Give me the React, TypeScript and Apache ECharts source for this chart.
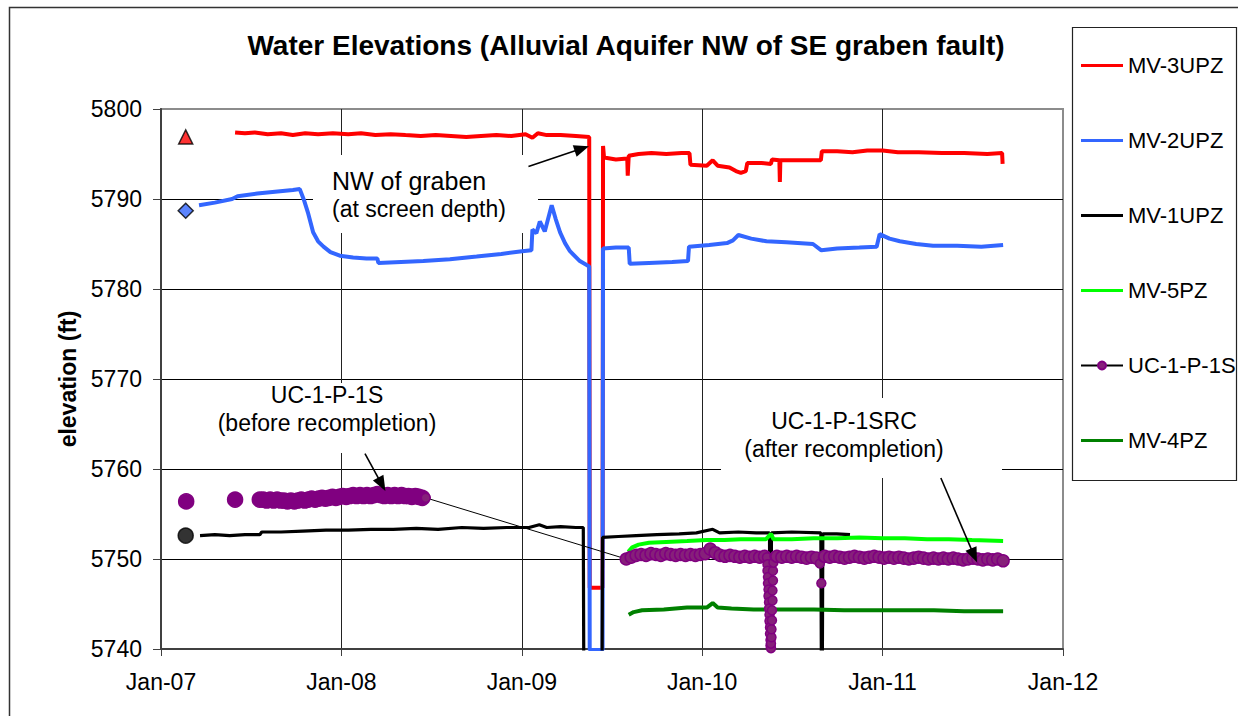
import React, { useEffect, useRef } from "react";
import * as echarts from "echarts";

const FONT = "'Liberation Sans', Arial, Helvetica, sans-serif";

// ---------- DATA ----------
const xOrigin = "2007-01-01"; // x values are days since this date
const xAxisMinDays = 0;
const xAxisMaxDays = 1826.25; // Jan-12
const xAxisIntervalDays = 365.25; // one year
const xFirstYear = 2007;
const yAxisMin = 5740;
const yAxisMax = 5800;
const yAxisInterval = 10;

const seriesNames = ["MV-3UPZ", "MV-2UPZ", "MV-1UPZ", "MV-5PZ", "UC-1-P-1S", "MV-4PZ"];

// manual readings (Feb 2007)
const manualDate = "2007-02-20";
const manualNames = ["MV-3UPZ", "MV-2UPZ", "MV-1UPZ"];
const manualValues = [5796.9, 5788.7, 5752.6];

const mv3upz: [string, number][] = [
  ["2007-05-31", 5797.4], ["2007-06-20", 5797.3], ["2007-07-10", 5797.4], ["2007-08-05", 5797.2],
  ["2007-09-01", 5797.3], ["2007-09-25", 5797.1], ["2007-10-20", 5797.3], ["2007-11-15", 5797.2],
  ["2007-12-15", 5797.3], ["2008-01-15", 5797.2], ["2008-02-10", 5797.3], ["2008-03-10", 5797.1],
  ["2008-04-10", 5797.2], ["2008-05-10", 5797.1], ["2008-06-10", 5797.0], ["2008-07-10", 5797.1],
  ["2008-08-10", 5797.0], ["2008-09-10", 5796.9], ["2008-10-10", 5797.0], ["2008-11-10", 5797.1],
  ["2008-12-10", 5797.0], ["2009-01-08", 5797.2], ["2009-01-22", 5796.8], ["2009-02-02", 5797.3],
  ["2009-02-20", 5797.1], ["2009-03-20", 5797.1], ["2009-04-20", 5797.0], ["2009-05-17", 5796.9],
  ["2009-05-18", 5746.8], ["2009-06-13", 5746.8], ["2009-06-14", 5795.9], ["2009-06-16", 5794.6],
  ["2009-07-10", 5794.4], ["2009-08-02", 5794.5], ["2009-08-03", 5792.6], ["2009-08-05", 5794.8],
  ["2009-08-25", 5795.0], ["2009-09-20", 5795.1], ["2009-10-20", 5795.0], ["2009-11-20", 5795.1],
  ["2009-12-06", 5795.1], ["2009-12-08", 5793.8], ["2010-01-10", 5793.7], ["2010-01-22", 5794.3],
  ["2010-02-01", 5793.7], ["2010-02-25", 5793.5], ["2010-03-10", 5793.1], ["2010-03-20", 5792.9],
  ["2010-03-30", 5793.1], ["2010-04-02", 5794.0], ["2010-05-01", 5794.0], ["2010-05-20", 5793.9],
  ["2010-05-22", 5794.4], ["2010-06-06", 5794.3], ["2010-06-07", 5791.9], ["2010-06-08", 5794.3],
  ["2010-07-15", 5794.3], ["2010-08-29", 5794.3], ["2010-08-31", 5795.3], ["2010-10-01", 5795.3],
  ["2010-11-01", 5795.2], ["2010-12-01", 5795.4], ["2011-01-01", 5795.4], ["2011-02-01", 5795.2],
  ["2011-03-15", 5795.2], ["2011-05-01", 5795.1], ["2011-06-15", 5795.1], ["2011-08-01", 5795.0],
  ["2011-08-31", 5795.1], ["2011-09-01", 5793.9],
];

const mv2upz: [string, number][] = [
  ["2007-03-19", 5789.3], ["2007-04-20", 5789.6], ["2007-05-25", 5790.0], ["2007-06-05", 5790.3],
  ["2007-07-15", 5790.6], ["2007-08-20", 5790.8], ["2007-09-25", 5791.0], ["2007-10-09", 5791.1],
  ["2007-10-18", 5789.8], ["2007-10-26", 5788.4], ["2007-11-05", 5786.3], ["2007-11-15", 5785.3],
  ["2007-11-26", 5784.7], ["2007-12-10", 5784.1], ["2007-12-29", 5783.7], ["2008-01-25", 5783.5],
  ["2008-02-21", 5783.4], ["2008-03-14", 5783.4], ["2008-03-16", 5782.9], ["2008-05-01", 5783.0],
  ["2008-06-15", 5783.1], ["2008-08-08", 5783.3], ["2008-10-01", 5783.6], ["2008-11-20", 5783.9],
  ["2009-01-01", 5784.2], ["2009-01-20", 5784.3], ["2009-01-22", 5786.6], ["2009-01-30", 5786.2],
  ["2009-02-06", 5787.5], ["2009-02-16", 5786.4], ["2009-03-02", 5789.3], ["2009-03-10", 5787.8],
  ["2009-03-19", 5786.3], ["2009-03-29", 5785.1], ["2009-04-08", 5784.2], ["2009-04-28", 5783.1],
  ["2009-05-17", 5782.5], ["2009-05-18", 5739.9], ["2009-06-13", 5739.9], ["2009-06-14", 5784.5],
  ["2009-07-10", 5784.6], ["2009-08-05", 5784.6], ["2009-08-07", 5782.8], ["2009-09-15", 5782.9],
  ["2009-11-01", 5783.0], ["2009-12-03", 5783.1], ["2009-12-05", 5784.7], ["2010-01-15", 5784.9],
  ["2010-02-20", 5785.1], ["2010-03-04", 5785.4], ["2010-03-15", 5786.0], ["2010-04-10", 5785.6],
  ["2010-05-11", 5785.3], ["2010-06-20", 5785.2], ["2010-08-13", 5785.0], ["2010-08-30", 5784.3],
  ["2010-10-01", 5784.5], ["2010-11-15", 5784.6], ["2010-12-20", 5784.7], ["2010-12-26", 5786.1],
  ["2011-01-15", 5785.6], ["2011-02-05", 5785.3], ["2011-03-10", 5785.0], ["2011-04-13", 5784.8],
  ["2011-06-01", 5784.8], ["2011-07-20", 5784.7], ["2011-09-02", 5784.9],
];

const mv1upz: [string, number][] = [
  ["2007-03-21", 5752.6], ["2007-04-20", 5752.7], ["2007-05-20", 5752.6], ["2007-06-20", 5752.7],
  ["2007-07-20", 5752.7], ["2007-07-24", 5753.0], ["2007-09-01", 5753.0], ["2007-10-15", 5753.1],
  ["2007-12-01", 5753.2], ["2008-01-15", 5753.2], ["2008-03-01", 5753.3], ["2008-04-15", 5753.3],
  ["2008-06-01", 5753.4], ["2008-07-15", 5753.3], ["2008-09-01", 5753.5], ["2008-10-15", 5753.4],
  ["2008-12-01", 5753.5], ["2009-01-15", 5753.5], ["2009-02-05", 5753.8], ["2009-02-20", 5753.5],
  ["2009-03-20", 5753.6], ["2009-04-20", 5753.5], ["2009-05-05", 5753.5], ["2009-05-06", 5738.0],
  ["2009-06-12", 5738.0], ["2009-06-13", 5752.4], ["2009-07-15", 5752.5], ["2009-08-20", 5752.6],
  ["2009-10-01", 5752.7], ["2009-11-15", 5752.8], ["2009-12-20", 5752.9], ["2010-01-22", 5753.3],
  ["2010-02-05", 5752.9], ["2010-03-15", 5753.0], ["2010-04-20", 5752.9], ["2010-05-17", 5752.9],
  ["2010-05-18", 5738.0], ["2010-05-20", 5738.0], ["2010-05-21", 5752.9], ["2010-07-01", 5753.0],
  ["2010-08-29", 5752.9], ["2010-08-30", 5738.0], ["2010-09-01", 5738.0], ["2010-09-02", 5752.8],
  ["2010-09-30", 5752.8], ["2010-10-27", 5752.7],
];

const mv5pz: [string, number][] = [
  ["2009-08-04", 5750.8], ["2009-08-12", 5751.3], ["2009-08-25", 5751.6], ["2009-09-15", 5751.8],
  ["2009-10-20", 5751.9], ["2009-12-01", 5752.0], ["2010-01-10", 5752.1], ["2010-02-15", 5752.1],
  ["2010-03-20", 5752.2], ["2010-05-10", 5752.2], ["2010-05-20", 5752.8], ["2010-05-25", 5752.2],
  ["2010-07-01", 5752.2], ["2010-08-15", 5752.3], ["2010-10-01", 5752.3], ["2010-11-15", 5752.4],
  ["2011-01-01", 5752.3], ["2011-02-15", 5752.3], ["2011-04-01", 5752.2], ["2011-05-15", 5752.2],
  ["2011-07-01", 5752.1], ["2011-09-02", 5752.0],
];

const mv4pz: [string, number][] = [
  ["2009-08-05", 5743.8], ["2009-08-15", 5744.1], ["2009-09-01", 5744.3], ["2009-10-15", 5744.4],
  ["2009-12-01", 5744.6], ["2010-01-10", 5744.6], ["2010-01-22", 5745.1], ["2010-02-01", 5744.6],
  ["2010-03-01", 5744.5], ["2010-04-15", 5744.4], ["2010-06-15", 5744.4], ["2010-08-15", 5744.4],
  ["2010-10-15", 5744.3], ["2010-12-15", 5744.3], ["2011-02-15", 5744.3], ["2011-04-15", 5744.3],
  ["2011-06-15", 5744.2], ["2011-09-02", 5744.2],
];

// UC-1-P-1S
const ucEarly: [string, number][] = [["2007-02-21", 5756.4], ["2007-05-31", 5756.6]];
const ucBeforeStart = "2007-07-20";
const ucBeforeStepDays = 7;
const ucBeforeValues = [
  5756.6, 5756.6, 5756.5, 5756.6, 5756.5, 5756.6, 5756.5, 5756.5, 5756.4, 5756.5,
  5756.4, 5756.5, 5756.6, 5756.5, 5756.6, 5756.7, 5756.6, 5756.7, 5756.8, 5756.7,
  5756.8, 5756.9, 5756.8, 5756.9, 5757.0, 5756.9, 5757.0, 5757.1, 5757.0, 5757.1,
  5757.0, 5757.1, 5757.0, 5757.1, 5757.2, 5757.1, 5757.0, 5757.1, 5757.0, 5757.1,
  5757.0, 5757.1, 5757.0, 5757.0, 5756.9, 5757.0, 5756.9, 5756.8, 5756.8,
];
const ucAfterAStart = "2009-07-31";
const ucAfterStepDays = 10;
const ucAfterAValues = [
  5750.0, 5750.2, 5750.4, 5750.5, 5750.4, 5750.6, 5750.5, 5750.4, 5750.6, 5750.5,
  5750.4, 5750.5, 5750.4, 5750.5, 5750.4, 5750.5, 5750.6, 5751.1, 5750.7, 5750.4,
  5750.3, 5750.4, 5750.3, 5750.2, 5750.3, 5750.2, 5750.3, 5750.2, 5750.3,
];
const ucDrop1: [string, number][] = [
  ["2010-05-12", 5750.2], ["2010-05-13", 5749.4], ["2010-05-13", 5748.7], ["2010-05-14", 5748.0],
  ["2010-05-14", 5747.3], ["2010-05-15", 5746.6], ["2010-05-15", 5745.9], ["2010-05-16", 5745.2],
  ["2010-05-16", 5744.5], ["2010-05-17", 5743.8], ["2010-05-17", 5743.1], ["2010-05-18", 5742.4],
  ["2010-05-18", 5741.7], ["2010-05-19", 5741.0], ["2010-05-19", 5740.4], ["2010-05-20", 5740.1],
  ["2010-05-20", 5740.6], ["2010-05-21", 5741.3], ["2010-05-21", 5742.2], ["2010-05-22", 5743.2],
  ["2010-05-22", 5744.3], ["2010-05-23", 5745.4], ["2010-05-23", 5746.5], ["2010-05-24", 5747.6],
  ["2010-05-24", 5748.7], ["2010-05-25", 5749.6], ["2010-05-27", 5750.3],
];
const ucAfterBStart = "2010-06-01";
const ucAfterBValues = [5750.3, 5750.2, 5750.3, 5750.2, 5750.3, 5750.2, 5750.1, 5750.2, 5750.1];
const ucDrop2: [string, number][] = [["2010-08-27", 5749.5], ["2010-08-30", 5747.3], ["2010-09-02", 5750.2]];
const ucAfterCStart = "2010-09-06";
const ucAfterCValues = [
  5750.3, 5750.2, 5750.3, 5750.2, 5750.1, 5750.2, 5750.3, 5750.2, 5750.1, 5750.2,
  5750.3, 5750.2, 5750.1, 5750.2, 5750.1, 5750.2, 5750.1, 5750.0, 5750.1, 5750.2,
  5750.1, 5750.0, 5750.1, 5750.0, 5750.1, 5750.0, 5750.1, 5750.0, 5749.9, 5750.0,
  5750.1, 5750.0, 5749.9, 5750.0, 5749.9, 5750.0,
];
const ucLast: [string, number] = ["2011-09-02", 5749.8];

// annotation arrows (tail -> head), data coordinates
const arrowTails: [string, number][] = [["2009-01-14", 5793.6], ["2008-02-18", 5761.7], ["2011-04-29", 5759.0]];
const arrowHeads: [string, number][] = [["2009-05-02", 5795.6], ["2008-03-23", 5758.3], ["2011-07-05", 5750.4]];

// ---------- helpers ----------
const ORIGIN_MS = (() => {
  const [y, m, d] = xOrigin.split("-").map(Number);
  return Date.UTC(y, m - 1, d);
})();
function day(s: string, addDays = 0): number {
  const [y, m, d] = s.split("-").map(Number);
  return (Date.UTC(y, m - 1, d) - ORIGIN_MS) / 86400000 + addDays;
}
const pairs = (arr: [string, number][]) => arr.map(([d, v]) => [day(d), v]);
const stepped = (start: string, step: number, values: number[]) =>
  values.map((v, i) => [day(start, i * step), v]);

const LINE_ICON = "path://M0,0h0.1v0.1h-0.1z M0,3.5h42v3h-42z M41.9,9.9h0.1v0.1h-0.1z";

export default function App() {
  const ref = useRef<HTMLDivElement>(null);

  useEffect(() => {
    if (!ref.current) return;
    const chart = echarts.init(ref.current, undefined, { renderer: "svg" });

    const PURPLE = "#800080";
    const big = (p: number[]) => ({ value: p, symbolSize: 15, itemStyle: { color: PURPLE, borderColor: PURPLE } });
    const small = (p: number[]) => ({ value: p, symbolSize: 9 });
    const beforePts = stepped(ucBeforeStart, ucBeforeStepDays, ucBeforeValues);
    const ucData: any[] = [
      big([day(ucEarly[0][0]), ucEarly[0][1]]),
      [day("2007-04-01"), null],
      big([day(ucEarly[1][0]), ucEarly[1][1]]),
      [day("2007-07-01"), null],
      ...beforePts.slice(0, -1).map(big),
      small(beforePts[beforePts.length - 1]),
      ...stepped(ucAfterAStart, ucAfterStepDays, ucAfterAValues),
      ...pairs(ucDrop1).map(small),
      ...stepped(ucAfterBStart, ucAfterStepDays, ucAfterBValues),
      ...pairs(ucDrop2).map(small),
      ...stepped(ucAfterCStart, ucAfterStepDays, ucAfterCValues),
      [day(ucLast[0]), ucLast[1]],
    ];

    const lineSeries = (name: string, data: [string, number][], color: string, width: number) => ({
      name,
      type: "line",
      data: pairs(data),
      symbol: "none",
      showSymbol: false,
      lineStyle: { color, width },
      itemStyle: { color },
      emphasis: { disabled: true },
      z: 2,
    });

    const manualStyles = [
      { symbol: "triangle", color: "#FF0000", size: 14 },
      { symbol: "diamond", color: "#3366FF", size: 15 },
      { symbol: "circle", color: "#000000", size: 15 },
    ];

    const option: any = {
      animation: false,
      backgroundColor: "#ffffff",
      textStyle: { fontFamily: FONT },
      title: {
        text: "Water Elevations (Alluvial Aquifer NW of SE graben fault)",
        left: 626,
        textAlign: "center",
        top: 31,
        padding: 0,
        textStyle: { fontFamily: FONT, fontSize: 28, fontWeight: "bold", color: "#000" },
      },
      legend: {
        orient: "vertical",
        left: 1072,
        top: 27,
        padding: [27.5, 4, 28, 8],
        itemGap: 53,
        itemWidth: 42,
        itemHeight: 10,
        selectedMode: false,
        textStyle: { fontFamily: FONT, fontSize: 22, color: "#000", lineHeight: 22 },
        data: seriesNames.map((n) => (n === "UC-1-P-1S" ? { name: n } : { name: n, icon: LINE_ICON })),
      },
      grid: {
        left: 161,
        right: 175,
        top: 109,
        bottom: 67,
        show: true,
        borderColor: "#8c8c8c",
        borderWidth: 2,
        backgroundColor: "transparent",
      },
      xAxis: {
        type: "value",
        min: xAxisMinDays,
        max: xAxisMaxDays,
        interval: xAxisIntervalDays,
        axisLine: { show: true, onZero: false, lineStyle: { color: "#404040", width: 2 } },
        axisTick: { show: true, length: 7, lineStyle: { color: "#404040", width: 1 } },
        axisLabel: {
          margin: 21,
          fontFamily: FONT,
          fontSize: 23,
          color: "#000",
          showMaxLabel: true,
          showMinLabel: true,
          formatter: (v: number) => {
            const yr = xFirstYear + Math.round(v / xAxisIntervalDays);
            return "Jan-" + String(yr).slice(2);
          },
        },
        splitLine: { show: true, showMinLine: false, showMaxLine: false, lineStyle: { color: "#222", width: 1 } },
      },
      yAxis: {
        type: "value",
        min: yAxisMin,
        max: yAxisMax,
        interval: yAxisInterval,
        name: "elevation (ft)",
        nameLocation: "middle",
        nameRotate: 90,
        nameGap: 82,
        nameTextStyle: { fontFamily: FONT, fontSize: 23, fontWeight: "bold", color: "#000" },
        axisLine: { show: true, onZero: false, lineStyle: { color: "#404040", width: 2 } },
        axisTick: { show: true, length: 8, lineStyle: { color: "#404040", width: 1 } },
        axisLabel: { margin: 19, fontFamily: FONT, fontSize: 23, color: "#000", formatter: (v: number) => String(v) },
        splitLine: { show: true, showMinLine: false, showMaxLine: false, lineStyle: { color: "#000", width: 1 } },
      },
      series: [
        lineSeries("MV-3UPZ", mv3upz, "#FF0000", 4),
        lineSeries("MV-2UPZ", mv2upz, "#3366FF", 4),
        lineSeries("MV-1UPZ", mv1upz, "#000000", 3.2),
        lineSeries("MV-5PZ", mv5pz, "#00FF00", 4),
        {
          name: "UC-1-P-1S",
          type: "line",
          data: ucData,
          symbol: "circle",
          symbolSize: 12,
          showSymbol: true,
          showAllSymbol: true,
          connectNulls: false,
          lineStyle: { color: "#000", width: 1 },
          itemStyle: { color: "#86207a", borderColor: PURPLE, borderWidth: 1.5 },
          emphasis: { disabled: true },
          z: 3,
        },
        lineSeries("MV-4PZ", mv4pz, "#008000", 4),
        {
          name: "manual readings",
          type: "scatter",
          z: 4,
          emphasis: { disabled: true },
          data: manualValues.map((v, i) => ({
            name: manualNames[i],
            value: [day(manualDate), v],
            symbol: manualStyles[i].symbol,
            symbolSize: manualStyles[i].size,
            itemStyle: { color: manualStyles[i].color, borderColor: "#000", borderWidth: 1.5 },
          })),
          markLine: {
            silent: true,
            symbol: ["none", "triangle"],
            symbolSize: [12, 15],
            label: { show: false },
            lineStyle: { color: "#000", width: 1.6, type: "solid" },
            emphasis: { disabled: true },
            data: arrowTails.map((t, i) => [
              { coord: [day(t[0]), t[1]] },
              { coord: [day(arrowHeads[i][0]), arrowHeads[i][1]] },
            ]),
          },
        },
      ],
      graphic: [
        {
          type: "rect",
          z: -10,
          shape: { x: 9.5, y: 7.5, width: 1260, height: 740 },
          style: { fill: "none", stroke: "#333", lineWidth: 1.5 },
          silent: true,
        },
        {
          type: "rect",
          z: 1,
          shape: { x: 1072.5, y: 27.5, width: 164, height: 453 },
          style: { fill: "none", stroke: "#222", lineWidth: 1.2 },
          silent: true,
        },
        // NW of graben box
        { type: "rect", z: 1, silent: true, shape: { x: 313, y: 155, width: 225, height: 78 }, style: { fill: "#fff" } },
        { type: "text", z: 1, silent: true, style: { x: 332, y: 181, text: "NW of graben", font: `25px ${FONT}`, fill: "#000", align: "left", verticalAlign: "middle" } },
        { type: "text", z: 1, silent: true, style: { x: 332, y: 208.5, text: "(at screen depth)", font: `23px ${FONT}`, fill: "#000", align: "left", verticalAlign: "middle" } },
        // before recompletion box
        { type: "rect", z: 1, silent: true, shape: { x: 200, y: 383, width: 252, height: 70 }, style: { fill: "#fff" } },
        { type: "text", z: 1, silent: true, style: { x: 327, y: 395, text: "UC-1-P-1S", font: `23px ${FONT}`, fill: "#000", align: "center", verticalAlign: "middle" } },
        { type: "text", z: 1, silent: true, style: { x: 327, y: 422.5, text: "(before recompletion)", font: `23px ${FONT}`, fill: "#000", align: "center", verticalAlign: "middle" } },
        // after recompletion box
        { type: "rect", z: 1, silent: true, shape: { x: 721, y: 398, width: 281, height: 80 }, style: { fill: "#fff" } },
        { type: "text", z: 1, silent: true, style: { x: 844, y: 421, text: "UC-1-P-1SRC", font: `23px ${FONT}`, fill: "#000", align: "center", verticalAlign: "middle" } },
        { type: "text", z: 1, silent: true, style: { x: 844, y: 448.5, text: "(after recompletion)", font: `23px ${FONT}`, fill: "#000", align: "center", verticalAlign: "middle" } },
      ],
    };

    chart.setOption(option);
    return () => chart.dispose();
  }, []);

  return (
    <div
      ref={ref}
      style={{ position: "fixed", left: 0, top: 0, width: 1238, height: 716, background: "#fff" }}
    />
  );
}
